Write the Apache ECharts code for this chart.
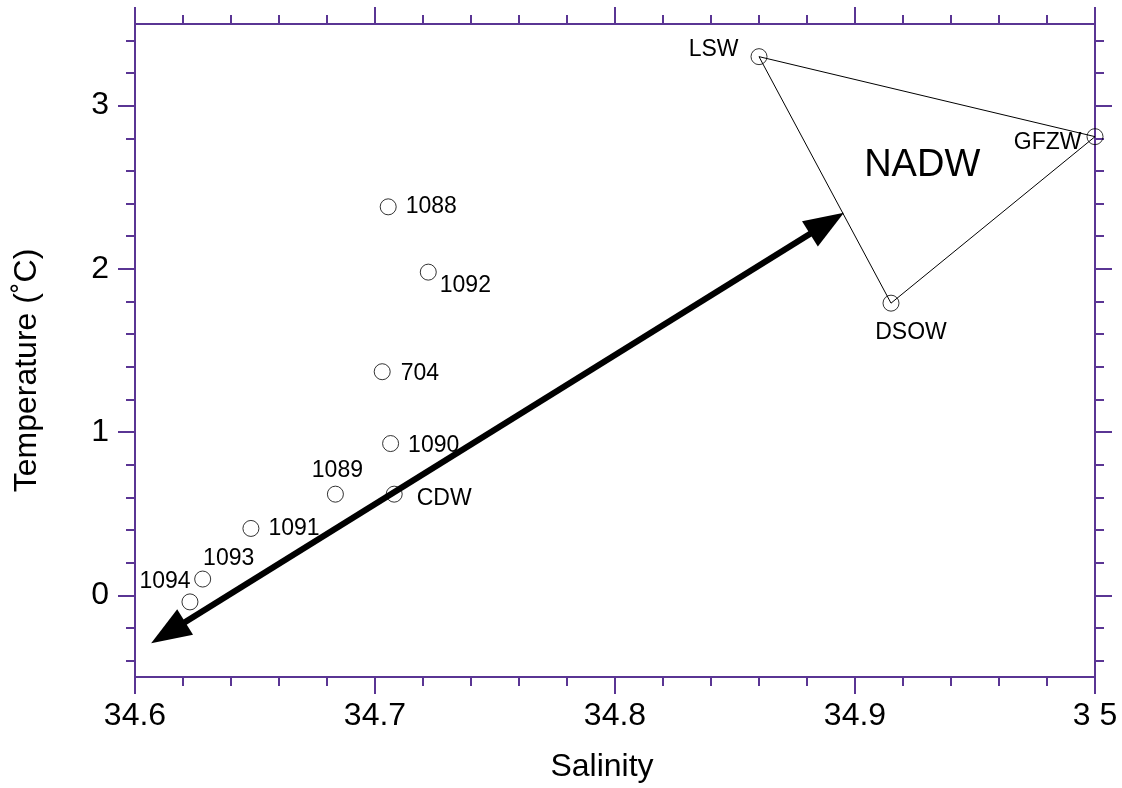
<!DOCTYPE html>
<html>
<head>
<meta charset="utf-8">
<script src="https://cdn.jsdelivr.net/npm/echarts@6/dist/echarts.min.js"></script>
<style>
  html, body { margin: 0; padding: 0; background: #ffffff; }
  #chart { width: 1122px; height: 788px; }
</style>
</head>
<body>
<div id="chart"></div>
<script>
// Sediment-core stations and the circumpolar deep water point
const stationNames = ['1088', '1092', '704', '1090', '1089', 'CDW', '1091', '1093', '1094'];
const stationSalinity = [34.7055, 34.7222, 34.703, 34.7065, 34.6835, 34.708, 34.6483, 34.6282, 34.6229];
const stationTemperature = [2.38, 1.98, 1.37, 0.93, 0.62, 0.62, 0.41, 0.10, -0.04];

// North Atlantic end-member water masses (mixing triangle)
const endMemberNames = ['LSW', 'GFZW', 'DSOW'];
const endMemberSalinity = [34.860, 35.000, 34.915];
const endMemberTemperature = [3.30, 2.81, 1.79];

// Label of the water mass formed inside the triangle
const regionName = 'NADW';
const regionSalinity = 34.928;
const regionTemperature = 2.63;

// Double-headed mixing arrow (centres of the two heads)
const arrowSalinity = [34.6138, 34.8883];
const arrowTemperature = [-0.228, 2.279];

// Axis ranges and tick labels
const salinityRange = [34.6, 35.0];
const temperatureRange = [-0.5, 3.5];
const xTickValues = [34.6, 34.7, 34.8, 34.9, 35.0];
const xTickLabels = ['34.6', '34.7', '34.8', '34.9', '3 5'];
const yTickValues = [0, 1, 2, 3];
const yTickLabels = ['0', '1', '2', '3'];

// Label placement around each marker
const labelPlacement = {
  '1088': { position: 'right', distance: 9, offset: [0, 0] },
  '1092': { position: 'right', distance: 3, offset: [0, 14] },
  '704':  { position: 'right', distance: 10, offset: [0, 2] },
  '1090': { position: 'right', distance: 9, offset: [0, 2] },
  '1089': { position: 'top', distance: 4, offset: [2, 0] },
  'CDW':  { position: 'right', distance: 14, offset: [0, 4] },
  '1091': { position: 'right', distance: 9, offset: [0, 0] },
  '1093': { position: 'top', distance: 0, offset: [26, 0] },
  '1094': { position: 'top', distance: 0, offset: [-25, 0] },
  'LSW':  { position: 'left', distance: 12, offset: [0, -7] },
  'GFZW': { position: 'left', distance: 5, offset: [0, 6] },
  'DSOW': { position: 'bottom', distance: 9, offset: [20, 0] }
};

const FONT = '"Liberation Sans", Arial, Helvetica, sans-serif';
const AXIS_COLOR = '#5a3594';
const TEXT_COLOR = '#000000';
const LABEL_SIZE = 23;
const AXIS_FONT = 32;
const REGION_FONT = 38;

// Minor tick positions every 0.2 degrees, skipping the labelled integers
const yMinorTicks = [];
for (let k = -2; k <= 17; k++) {
  const v = Math.round(k * 0.2 * 10) / 10;
  if (v > temperatureRange[0] && v < temperatureRange[1] && Math.abs(v - Math.round(v)) > 1e-9) yMinorTicks.push(v);
}

function xLabelFor(value) {
  for (let i = 0; i < xTickValues.length; i++) {
    if (Math.abs(xTickValues[i] - value) < 1e-6) return xTickLabels[i];
  }
  return '';
}
function yLabelFor(value) {
  for (let i = 0; i < yTickValues.length; i++) {
    if (Math.abs(yTickValues[i] - value) < 1e-6) return yTickLabels[i];
  }
  return '';
}

function makeXAxis(position, withLabels) {
  return {
    type: 'value',
    position: position,
    min: salinityRange[0],
    max: salinityRange[1],
    interval: 0.1,
    name: withLabels ? 'Salinity' : '',
    nameLocation: 'middle',
    nameGap: 74,
    nameTextStyle: { fontSize: AXIS_FONT, color: TEXT_COLOR, fontFamily: FONT, padding: [0, 26, 0, 0] },
    axisLine: { show: true, onZero: false, lineStyle: { color: AXIS_COLOR, width: 2 } },
    axisTick: { show: true, length: 17, lineStyle: { color: AXIS_COLOR, width: 2 } },
    minorTick: { show: true, splitNumber: 5, length: 9, lineStyle: { color: AXIS_COLOR, width: 2 } },
    splitLine: { show: false },
    minorSplitLine: { show: false },
    axisLabel: {
      show: withLabels,
      margin: 23,
      fontSize: AXIS_FONT,
      color: TEXT_COLOR,
      fontFamily: FONT,
      formatter: xLabelFor
    }
  };
}

function makeYAxis(position, values, tickLength, withLabels, showLine) {
  return {
    type: 'value',
    position: position,
    min: temperatureRange[0],
    max: temperatureRange[1],
    name: withLabels ? 'Temperature (˚C)' : '',
    nameLocation: 'middle',
    nameGap: 92,
    nameRotate: 90,
    nameTextStyle: { fontSize: AXIS_FONT, color: TEXT_COLOR, fontFamily: FONT, padding: [0, 40, 0, 0] },
    axisLine: { show: showLine, onZero: false, lineStyle: { color: AXIS_COLOR, width: 2 } },
    axisTick: { show: true, length: tickLength, customValues: values, lineStyle: { color: AXIS_COLOR, width: 2 } },
    splitLine: { show: false },
    axisLabel: {
      show: withLabels,
      customValues: values,
      margin: 26,
      fontSize: AXIS_FONT,
      color: TEXT_COLOR,
      fontFamily: FONT,
      formatter: yLabelFor
    }
  };
}

// Markers with their labels
const markerData = [];
function pushMarker(name, s, t) {
  const p = labelPlacement[name];
  markerData.push({
    name: name,
    value: [s, t],
    label: {
      show: true, position: p.position, distance: p.distance, offset: p.offset,
      color: TEXT_COLOR, opacity: 1, fontSize: LABEL_SIZE, fontFamily: FONT
    }
  });
}
stationNames.forEach((n, i) => pushMarker(n, stationSalinity[i], stationTemperature[i]));
endMemberNames.forEach((n, i) => pushMarker(n, endMemberSalinity[i], endMemberTemperature[i]));

// Closed mixing triangle LSW -> GFZW -> DSOW -> LSW
const triangle = endMemberNames.map((n, i) => [endMemberSalinity[i], endMemberTemperature[i]]);
triangle.push(triangle[0]);

const chart = echarts.init(document.getElementById('chart'), null, { renderer: 'canvas' });
chart.setOption({
  animation: false,
  backgroundColor: '#ffffff',
  textStyle: { fontFamily: FONT, color: TEXT_COLOR },
  grid: { left: 135, right: 27, top: 24, bottom: 111, containLabel: false },
  xAxis: [makeXAxis('bottom', true), makeXAxis('top', false)],
  yAxis: [
    makeYAxis('left', yTickValues, 17, true, true),
    makeYAxis('left', yMinorTicks, 9, false, false),
    makeYAxis('right', yTickValues, 17, false, true),
    makeYAxis('right', yMinorTicks, 9, false, false)
  ],
  series: [
    {
      type: 'line',
      xAxisIndex: 0,
      yAxisIndex: 0,
      data: triangle,
      symbol: 'none',
      silent: true,
      clip: false,
      lineStyle: { color: '#000', width: 1 },
      z: 2,
      markLine: {
        silent: true,
        symbol: ['path://M0,0 L1,2 L-1,2 Z', 'path://M0,0 L1,2 L-1,2 Z'],
        symbolSize: [30, 40],
        label: { show: false },
        lineStyle: { color: '#000', width: 6, type: 'solid', opacity: 1 },
        itemStyle: { color: '#000' },
        emphasis: { disabled: true },
        data: [[
          { coord: [arrowSalinity[0], arrowTemperature[0]] },
          { coord: [arrowSalinity[1], arrowTemperature[1]] }
        ]]
      }
    },
    {
      type: 'scatter',
      xAxisIndex: 0,
      yAxisIndex: 0,
      data: markerData,
      symbol: 'circle',
      symbolSize: 16,
      clip: false,
      silent: true,
      itemStyle: { color: 'rgba(255,255,255,0)', borderColor: '#000', borderWidth: 1 },
      label: { color: TEXT_COLOR, fontSize: LABEL_SIZE, fontFamily: FONT, formatter: '{b}' },
      z: 3
    },
    {
      type: 'scatter',
      xAxisIndex: 0,
      yAxisIndex: 0,
      data: [{
        name: regionName,
        value: [regionSalinity, regionTemperature],
        label: {
          show: true, position: 'top', distance: 0, offset: [0, REGION_FONT / 2],
          color: TEXT_COLOR, opacity: 1, fontSize: REGION_FONT, fontFamily: FONT
        }
      }],
      symbol: 'circle',
      symbolSize: 1,
      itemStyle: { color: 'rgba(255,255,255,0)' },
      silent: true,
      label: { formatter: '{b}' },
      z: 3
    }
  ]
});
</script>
</body>
</html>
